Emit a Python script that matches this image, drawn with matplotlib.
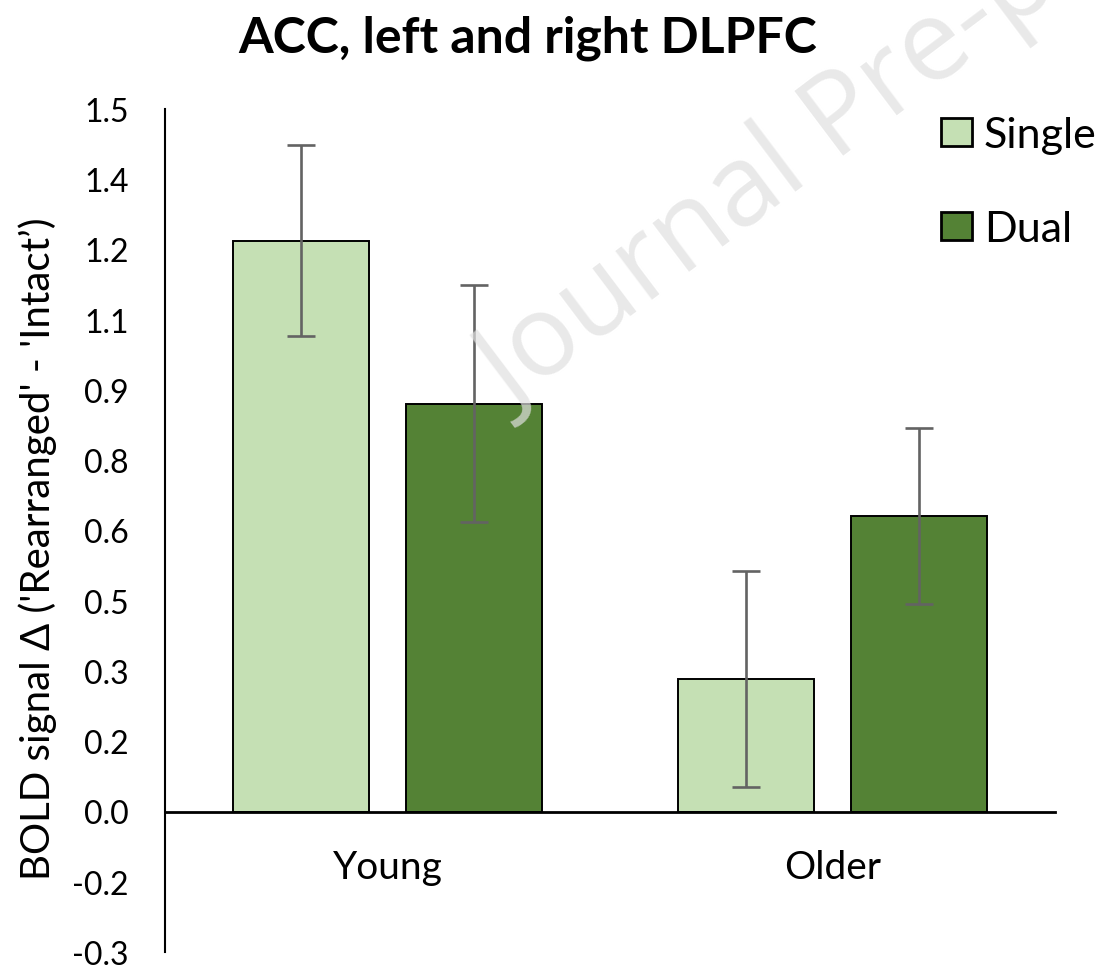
import matplotlib
matplotlib.use("Agg")
import matplotlib.pyplot as plt
from matplotlib.patches import Patch
import numpy as np

# data
groups = ["Young", "Older"]
conditions = ["Single", "Dual"]
single_vals = [1.219, 0.283]
dual_vals = [0.871, 0.631]
single_err = [0.204, 0.230]
dual_err = [0.253, 0.187]

# Excel-style axis: ticks every 0.15, shown with one decimal
ytick_vals = [1.5, 1.35, 1.2, 1.05, 0.9, 0.75, 0.6, 0.45, 0.3, 0.15, 0.0, -0.15, -0.3]
ytick_labels = ["1.5", "1.4", "1.2", "1.1", "0.9", "0.8", "0.6", "0.5", "0.3", "0.2", "0.0", "-0.2", "-0.3"]

title = "ACC, left and right DLPFC"
ylabel = "BOLD signal \u0394 ('Rearranged' - 'Intact\u2019)"
watermark = "Journal Pre-proof"

colors = {"Single": "#C5E0B4", "Dual": "#548235"}
FONT = ["Lato", "DejaVu Sans"]

plt.rcParams["font.family"] = FONT

W, H = 1110, 970
fig = plt.figure(figsize=(W / 100, H / 100), dpi=100)


def px(x, y):
    return x / W, 1 - y / H


# axes box measured in pixels: x 165..1055, y 110..953
x0, y0 = px(165, 953)
x1, y1 = px(1055, 110)
ax = fig.add_axes([x0, y0, x1 - x0, y1 - y0])
ax.set_facecolor("none")

x = np.arange(len(groups))
bw = 0.307
off = 0.194
err_kw = dict(ecolor="#636363", elinewidth=1.9, capsize=10, capthick=1.9)
ax.bar(x - off, single_vals, bw, color=colors["Single"], edgecolor="black",
       linewidth=1.4, yerr=single_err, error_kw=err_kw, zorder=3)
ax.bar(x + off, dual_vals, bw, color=colors["Dual"], edgecolor="black",
       linewidth=1.4, yerr=dual_err, error_kw=err_kw, zorder=3)

ax.set_xlim(-0.5, 1.5)
ax.set_ylim(-0.3, 1.5)
ax.set_yticks(ytick_vals)
ax.set_yticklabels(ytick_labels)
ax.set_xticks(x)
ax.set_xticklabels(groups)

for s in ("top", "right"):
    ax.spines[s].set_visible(False)
ax.spines["left"].set_linewidth(1.5)
ax.spines["bottom"].set_position(("data", 0))
ax.spines["bottom"].set_linewidth(2.0)
ax.spines["bottom"].set_zorder(4)

ax.tick_params(axis="y", length=0, pad=26, labelsize=23)
ax.tick_params(axis="x", length=0, pad=27, labelsize=28)

ax.set_ylabel(ylabel, fontsize=29)
ax.yaxis.set_label_coords(-0.121, 0.48)

fig.text(*px(528, 38), title, ha="center", va="center",
         fontsize=36, fontweight="bold")

handles = [Patch(facecolor=colors[c], edgecolor="black", linewidth=2.0, label=c)
           for c in conditions]
ax.legend(handles=handles, loc="upper left", bbox_to_anchor=px(941, 117),
          bbox_transform=fig.transFigure, frameon=False, fontsize=31,
          handlelength=0.72, handleheight=0.63, handletextpad=0.28,
          labelspacing=1.3, borderpad=0, borderaxespad=0)

# faint watermark
fig.text(*px(512, 412), watermark, rotation=37, rotation_mode="anchor",
         ha="left", va="baseline", fontsize=82, color="#e0e0e0",
         family=["Open Sans", "DejaVu Sans"], alpha=0.7, zorder=10)

fig.savefig("out.png", dpi=100)
